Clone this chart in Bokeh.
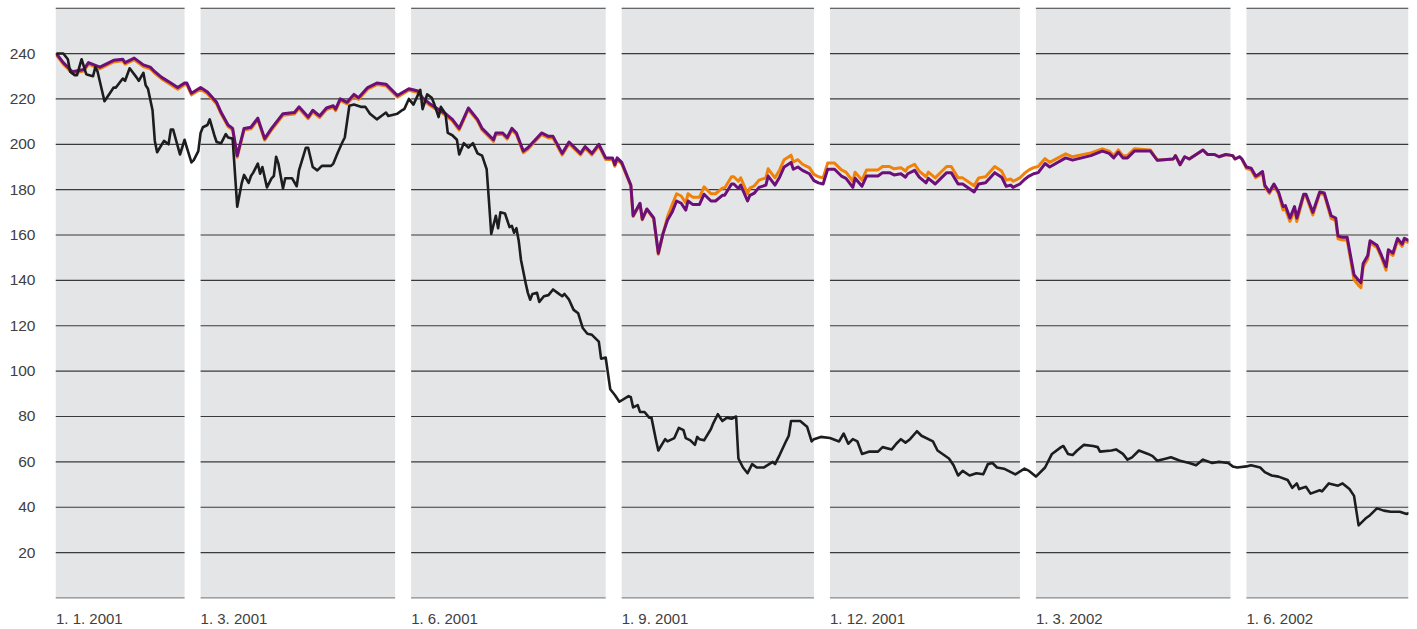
import pandas as pd
from bokeh.plotting import figure
from bokeh.models import Range1d, FixedTicker
from bokeh.embed import file_html
from bokeh.resources import INLINE
from bokeh.core.properties import value

# ---------------- data ----------------
tick_dates = ["2001-01-01", "2001-03-01", "2001-06-01", "2001-09-01",
              "2001-12-01", "2002-03-01", "2002-06-01"]
tick_labels = ["1. 1. 2001", "1. 3. 2001", "1. 6. 2001", "1. 9. 2001",
               "1. 12. 2001", "1. 3. 2002", "1. 6. 2002"]
y_ticks = [20, 40, 60, 80, 100, 120, 140, 160, 180, 200, 220, 240]
grid_values = [0, 20, 40, 60, 80, 100, 120, 140, 160, 180, 200, 220, 240, 260]

# days counted from 1 Jan 2001
index_days = [-4, -1, 3, 8, 10, 15, 21, 25, 26, 30, 34, 37, 39, 42, 46, 49, 52, 53, 55, 59,
              62, 66, 68, 71, 73, 75, 78, 81, 84, 87, 90, 95, 100, 102, 106, 108, 111, 114, 117, 118,
              120, 123, 126, 128, 132, 136, 140, 145, 150, 154, 156, 159, 162, 166, 169, 172, 176, 180, 182, 187,
              188, 191, 193, 195, 197, 200, 202, 208, 211, 213, 217, 220, 225, 227, 230, 233, 236, 239, 240, 241,
              243, 247, 248, 251, 252, 254, 257, 259, 261, 263, 265, 267, 269, 271, 272, 274, 277, 279, 282, 284,
              287, 288, 291, 292, 294, 295, 298, 299, 301, 303, 306, 307, 310, 312, 314, 317, 318, 320, 322, 325,
              327, 329, 331, 333, 336, 339, 341, 344, 345, 348, 350, 355, 357, 360, 362, 365, 367, 368, 371, 373,
              376, 377, 380, 383, 385, 387, 390, 392, 397, 399, 402, 406, 409, 411, 413, 414, 417, 419, 421, 423,
              425, 428, 430, 437, 440, 448, 453, 456, 458, 460, 462, 464, 467, 474, 477, 484, 485, 487, 489, 491,
              497, 499, 502, 504, 507, 510, 511, 513, 514, 516, 518, 520, 521, 523, 524, 526, 528, 530, 532, 533,
              535, 537, 538, 541, 542, 545, 548, 550, 553, 555, 556, 558, 560, 563, 565, 566, 567, 569, 570, 573,
              575, 577, 578, 580, 582, 584, 585, 587]

index_purple = [240, 236, 232, 233, 236, 234, 237, 237.5, 236, 238, 235, 234, 232, 229.5, 227, 225, 227, 227, 222.5, 225,
                223, 218.5, 214, 208.5, 207, 195, 207, 207.5, 211.5, 202.5, 207, 213.5, 214, 216.5, 212, 215, 212.5, 216, 217, 215.5,
                220, 218.5, 222, 220.5, 225, 227, 226.5, 221.5, 224.5, 223.5, 220.5, 218, 216, 213.5, 211, 207, 216, 211, 207, 202,
                205, 205, 203, 207, 205, 197, 198.5, 205, 203.5, 203.5, 196, 201, 196, 199, 196, 200, 194, 194, 191, 194,
                192, 182, 168.5, 174, 167, 171.5, 167.5, 152, 160.5, 166.5, 170, 175, 174, 171, 175, 173.5, 173.5, 178, 175, 175,
                177.5, 177.5, 182.5, 182.5, 180.5, 182, 175, 177.5, 178.5, 181, 182, 186, 182, 185.5, 190, 192, 189, 190, 188.5, 187,
                184, 183, 182.5, 189, 189, 186, 185, 181, 185, 181.5, 186, 186, 187.5, 187.5, 186.5, 187, 185.5, 187, 188.5, 185.5,
                183, 185, 182.5, 185.5, 187.5, 187.5, 182.5, 182.5, 179, 182.5, 183, 187.5, 185.5, 181.5, 182, 181, 182.5, 184.5, 186, 187,
                187.5, 191.5, 190, 194, 193, 195, 197, 196, 194, 196.5, 194, 194, 197, 197, 193, 193.5, 195, 191, 194.5, 193.5,
                197.5, 195.5, 195.5, 194.5, 195.5, 195, 193.5, 194.5, 193.5, 190, 189.5, 186, 186.5, 188, 182, 179, 182.5, 179, 172.5, 173,
                167.5, 172.5, 167.5, 178, 178, 170, 179, 178.5, 168.5, 167.5, 159.5, 159, 159, 142.5, 140, 139, 147.5, 151, 157.5, 155.5,
                151, 146, 153.5, 152, 158.5, 156, 158.5, 157.5]

index_orange = [239.3, 235.3, 231.3, 232.3, 235.3, 233.3, 236.3, 236.8, 235.3, 237.3, 234.3, 233.3, 231.3, 228.8, 226.3, 224.3, 226.3, 226.3, 221.8, 224.3,
                222.3, 217.8, 213.3, 207.8, 206.3, 194.3, 206.3, 206.8, 210.8, 201.8, 206.3, 212.8, 213.3, 215.8, 211.3, 214.3, 211.8, 215.3, 216.3, 214.8,
                219.3, 217.8, 221.3, 219.8, 224.3, 226.3, 225.8, 220.8, 223.8, 222.8, 219.8, 217.3, 215.3, 212.8, 210.3, 206.3, 215.3, 210.3, 206.3, 201.3,
                204.3, 204.3, 202.3, 206.3, 204.3, 196.3, 197.8, 204.3, 202.8, 202.8, 195.3, 200.3, 195.3, 198.3, 195.3, 199.3, 193.3, 193.3, 190.3, 193.3,
                191.3, 181.7, 168.2, 173.7, 166.7, 171.2, 167.2, 151.5, 160.2, 168, 173.2, 178.2, 177.2, 174.2, 178.2, 176.7, 176.7, 181.2, 178.2, 178.2,
                180.7, 180.7, 185.7, 185.7, 183.7, 185.2, 178.2, 180.7, 181.7, 184.2, 185.2, 189.2, 185.2, 188.7, 193.2, 195.2, 192.2, 193.2, 191.2, 189.7,
                186.7, 185.7, 185.2, 191.7, 191.7, 188.7, 187.7, 183.7, 187.7, 184.2, 188.7, 188.7, 190.2, 190.2, 189.2, 189.7, 188.2, 189.7, 191.2, 188.2,
                185.7, 187.7, 185.2, 188.2, 190.2, 190.2, 185.2, 185.2, 181.7, 185.2, 185.7, 190.2, 188.2, 184.2, 184.7, 183.7, 185.2, 187.2, 188.7, 189.7,
                190.2, 193.7, 192, 195.8, 194.5, 196.2, 198, 197, 195, 197.5, 195, 195, 198, 197.5, 193, 193.5, 195, 191, 194.5, 193.5,
                197.5, 195.5, 195.5, 194.5, 195.5, 195, 193.5, 194.5, 193.5, 189.3, 188.8, 185.3, 185.8, 187.3, 181.3, 178.3, 181.8, 178.3, 171, 171.5,
                166, 171, 166, 177.3, 177.3, 168.8, 178.3, 177.8, 167.3, 166.3, 158.3, 157.8, 157.8, 140.3, 137.8, 136.8, 146, 149.5, 156.5, 154.5,
                150, 144.5, 152.5, 151, 157.5, 155, 157.5, 156.5]

stock_days = [-4, -1, 1, 2, 4, 5, 7, 9, 10, 12, 13, 14, 17, 20, 21, 22, 25, 26, 28, 31,
              32, 34, 35, 36, 38, 39, 40, 43, 45, 46, 47, 50, 52, 53, 55, 56, 58, 59, 60, 62,
              63, 65, 66, 68, 70, 71, 73, 75, 77, 78, 80, 81, 82, 84, 85, 86, 88, 90, 91, 92,
              93, 95, 96, 99, 101, 102, 105, 106, 108, 110, 112, 116, 117, 119, 121, 122, 124, 126, 129, 131,
              133, 136, 138, 140, 141, 145, 147, 148, 150, 152, 155, 156, 158, 160, 161, 163, 164, 166, 167, 169,
              171, 172, 174, 176, 178, 180, 182, 184, 185, 186, 188, 189, 190, 192, 194, 195, 196, 197, 198, 199,
              201, 202, 203, 204, 206, 207, 209, 211, 213, 215, 217, 218, 220, 222, 224, 226, 228, 230, 233, 234,
              236, 238, 240, 242, 246, 247, 248, 250, 251, 253, 255, 256, 258, 259, 262, 263, 266, 268, 270, 271,
              273, 275, 276, 277, 279, 282, 283, 285, 287, 289, 291, 293, 294, 296, 298, 300, 302, 305, 309, 310,
              312, 315, 316, 317, 321, 324, 326, 327, 330, 334, 338, 340, 342, 344, 346, 348, 351, 355, 357, 361,
              363, 365, 367, 369, 372, 374, 379, 381, 386, 388, 390, 392, 395, 398, 401, 403, 405, 407, 410, 412,
              415, 419, 421, 424, 428, 431, 435, 436, 438, 440, 442, 445, 449, 451, 452, 457, 459, 462, 464, 466,
              469, 473, 475, 477, 481, 483, 487, 491, 494, 497, 501, 504, 508, 510, 512, 516, 518, 522, 524, 527,
              530, 534, 536, 538, 539, 542, 544, 548, 549, 552, 556, 558, 561, 563, 564, 565, 568, 570, 573, 576,
              579, 583, 586, 587]

stock_black = [240, 240, 237.5, 232, 230.5, 230.5, 237.5, 231, 230.5, 230, 234, 232, 219, 223.5, 225, 225, 229, 228, 233.5, 229.5,
               228, 231.5, 226, 224.5, 215, 201.5, 196.5, 201.5, 200, 206.5, 206.5, 195.5, 202, 198.5, 192, 193, 197, 205, 207.5, 208.5,
               211, 204, 201, 200.5, 204.5, 203, 202.5, 172.5, 183, 186.5, 183, 186, 187.5, 191.5, 187, 190, 181, 185, 186, 194.5,
               191.5, 180.5, 185, 185, 181.5, 188.5, 198.5, 198.5, 190, 188.5, 190.5, 190.5, 191.5, 196.5, 201, 203, 217, 217.5, 216.5, 216.5,
               213.5, 211, 212.5, 214, 212.5, 213.5, 215, 215.5, 220, 217.5, 224, 215.5, 222, 220.5, 218, 212, 216.5, 213.5, 205, 204,
               202, 195.5, 200.5, 198.5, 200.5, 196, 195, 189, 175, 160.5, 168.5, 163, 170, 169.5, 163.5, 164, 161, 163, 157.5, 149,
               139, 134.5, 131.5, 134, 134.5, 130.5, 133, 133.5, 136, 134.5, 133, 134, 131.5, 127, 125.5, 119, 116.5, 116, 113, 105.5,
               106, 92, 89.5, 86.5, 89, 88.5, 84, 85, 82, 82, 79.5, 79.5, 69.5, 65, 70, 69, 70.5, 75, 74, 70.5,
               69.5, 67.5, 71, 70, 69.5, 74.5, 77, 81, 78, 79.5, 79, 80, 61.5, 57.5, 55, 59, 57.5, 57.5, 60, 59,
               63, 69.5, 71.5, 78, 78, 75.5, 69, 70, 71, 70.5, 69, 72.5, 68, 70, 69, 63.5, 64.5, 64.5, 66.5, 65.5,
               68, 70, 68.5, 70, 73.5, 71.5, 69, 65, 61.5, 58.5, 54, 56, 54, 55, 54.5, 59, 59.5, 57.5, 57, 56,
               54.5, 57, 56, 53.5, 57.5, 63.5, 66.5, 67, 63.5, 63, 65, 67.5, 67, 66.5, 64.5, 65, 65.5, 63.5, 61, 62,
               65, 63.5, 62.5, 60.5, 61.5, 62, 60.5, 59.5, 58.5, 61, 59.5, 60, 59.5, 58, 57.5, 58, 58.5, 57.5, 55.5, 54,
               53.5, 52, 48.5, 50.5, 48, 49, 46, 47.5, 47, 50.5, 49.5, 50.5, 48, 45, 38.5, 32, 35, 36.5, 39.5, 38.5,
               38, 38, 37, 37.5]

# ---------------- layout ----------------
base = pd.Timestamp("2001-01-01")
tick_days = [(pd.Timestamp(d) - base).days for d in tick_dates]
x_start, x_end = -4.4, 586.8
gap_days = 7
band_starts = [x_start] + tick_days[1:]
band_ends = [s - gap_days for s in tick_days[1:]] + [x_end]

p = figure(width=1417, height=629, output_backend="svg", toolbar_location=None,
           x_range=Range1d(x_start, x_end), y_range=Range1d(-13.9, 260.3),
           x_axis_location=None, min_border_left=55, min_border_right=9,
           min_border_top=7, min_border_bottom=0)
p.outline_line_color = None
p.grid.visible = False
p.background_fill_color = "white"
p.border_fill_color = "white"

p.quad(left=band_starts, right=band_ends, bottom=0, top=260,
       fill_color="#e4e5e7", line_color=None)

gx0, gx1, gy, gc = [], [], [], []
for s, e in zip(band_starts, band_ends):
    for g in grid_values:
        gx0.append(s); gx1.append(e); gy.append(g)
        gc.append("#8a8a8a" if g == 0 else "#3a3a3a")
p.segment(x0=gx0, x1=gx1, y0=gy, y1=gy, line_color=gc, line_width=1.2)

p.line(index_days, index_orange, line_color="#f0820a", line_width=3, line_join="round")
p.line(index_days, index_purple, line_color="#6d0f78", line_width=3, line_join="round")
p.line(stock_days, stock_black, line_color="#1d1d1d", line_width=2.6, line_join="round")

label_x = [x_start + 0.2] + tick_days[1:]
p.text(x=label_x, y=[-8.9] * len(label_x), text=tick_labels,
       text_font=value("Liberation Sans"), text_font_size="15px",
       text_color="#404040", text_align="left", text_baseline="middle")

ax = p.yaxis[0]
ax.ticker = FixedTicker(ticks=y_ticks)
ax.axis_line_color = None
ax.major_tick_line_color = None
ax.minor_tick_line_color = None
ax.major_tick_out = 0
ax.major_tick_in = 0
ax.major_label_standoff = 20
ax.major_label_text_font = "Liberation Sans"
ax.major_label_text_font_size = "15.5px"
ax.major_label_text_color = "#404040"

open("out.html", "w").write(file_html(p, INLINE))
